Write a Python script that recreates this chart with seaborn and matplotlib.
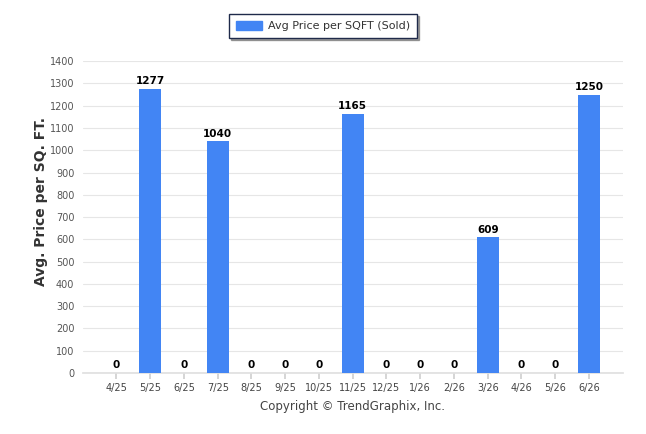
import pandas as pd
import matplotlib
matplotlib.use("Agg")
import matplotlib.pyplot as plt
import seaborn as sns
from matplotlib.patches import Patch

# data
months = ["4/25", "5/25", "6/25", "7/25", "8/25", "9/25", "10/25", "11/25",
          "12/25", "1/26", "2/26", "3/26", "4/26", "5/26", "6/26"]
price_per_sqft = [0, 1277, 0, 1040, 0, 0, 0, 1165, 0, 0, 0, 609, 0, 0, 1250]
y_ticks = list(range(0, 1401, 100))

df = pd.DataFrame({"month": months, "price": price_per_sqft})

sns.set_theme(style="white")
plt.rcParams["font.family"] = ["DejaVu Sans"]

bar_color = "#4285F4"

fig = plt.figure(figsize=(6.46, 4.34), dpi=100)
ax = fig.add_axes([0.128, 0.1406, 0.836, 0.7184])

sns.barplot(data=df, x="month", y="price", color=bar_color, width=0.64,
            saturation=1, linewidth=0, edgecolor="none", ax=ax, zorder=3)

ax.set_xlim(-1, 15)
ax.set_ylim(0, 1400)
ax.set_yticks(y_ticks)
ax.grid(axis="y", color="#e6e6e6", linewidth=0.8, zorder=0)
ax.set_axisbelow(True)

for s in ["top", "right", "left"]:
    ax.spines[s].set_visible(False)
ax.spines["bottom"].set_color("#e0e0e0")

ax.tick_params(axis="x", colors="#444444", labelsize=7, length=4,
               color="#d0d0d0", pad=3, bottom=True)
ax.tick_params(axis="y", colors="#555555", labelsize=7, length=0, pad=6)

ax.set_xlabel("Copyright \u00a9 TrendGraphix, Inc.", fontsize=8.5,
              color="#444444", labelpad=5)
ax.set_ylabel("Avg. Price per SQ. FT.", fontsize=10, fontweight="bold",
              color="#333333")
ax.yaxis.set_label_coords(-0.064, 0.55)

# value labels above the bars
for i, v in enumerate(price_per_sqft):
    ax.text(i, v + 12, f"{v}", ha="center", va="bottom", fontsize=7.5,
            fontweight="bold", color="black")

handle = Patch(facecolor=bar_color, edgecolor=bar_color)
leg = fig.legend([handle], ["Avg Price per SQFT (Sold)"], loc="center",
                 bbox_to_anchor=(0.5, 0.94), fontsize=8, frameon=True,
                 fancybox=False,
                 shadow={"ox": 1.5, "oy": -1.5, "color": "#666666", "alpha": 0.6},
                 handlelength=2.4, handleheight=0.9, borderpad=0.6,
                 handletextpad=0.5, borderaxespad=0)
leg.get_frame().set_edgecolor("#1f2a4a")
leg.get_frame().set_linewidth(1.0)
for t in leg.get_texts():
    t.set_color("#333333")

fig.savefig("out.png", dpi=100)
